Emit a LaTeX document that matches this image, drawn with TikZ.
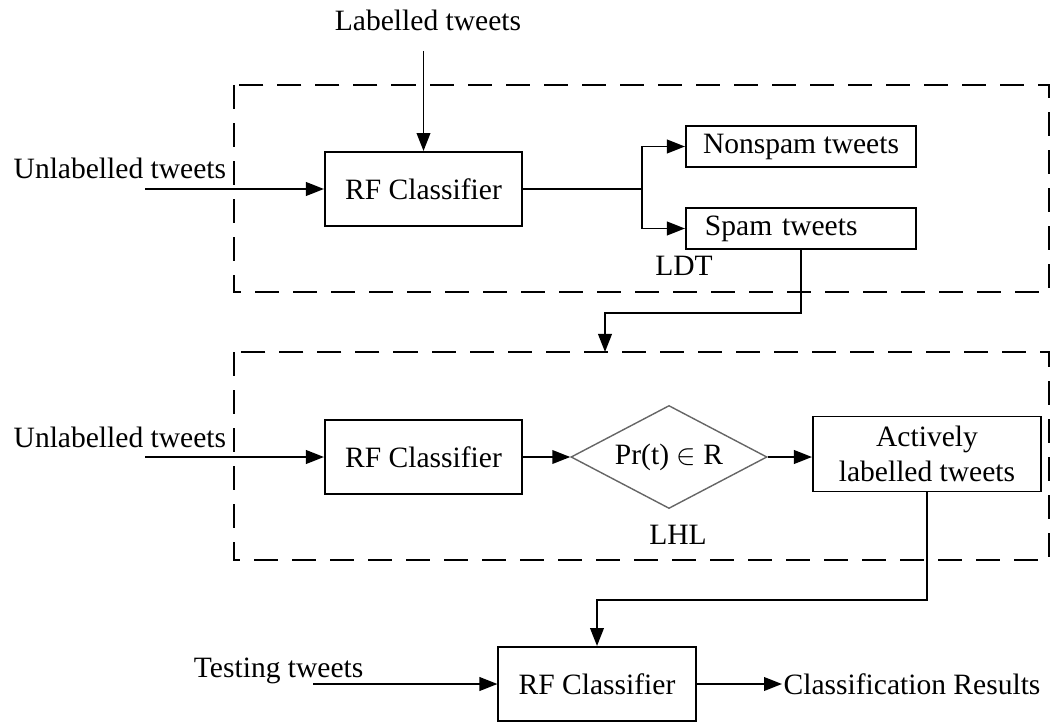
\documentclass[tikz,border=0pt]{standalone}
\usepackage{fontspec}
\setmainfont{Liberation Serif}
\usetikzlibrary{shapes.geometric,arrows.meta}

\begin{document}
\begin{tikzpicture}[x=0.025cm,y=-0.025cm,
  font=\fontsize{21}{25}\selectfont,
  box/.style={draw,line width=1.4pt,minimum width=4.925cm,minimum height=1.85cm,align=center},
  outbox/.style={draw,line width=1.4pt,minimum width=5.75cm,minimum height=1.03cm},
  decide/.style={diamond,draw=gray!80!black,line width=1pt,aspect=1.9,inner sep=0pt,
    minimum width=4.9cm,minimum height=2.575cm},
  flow/.style={-{Triangle[length=0.45cm,width=0.34cm]},line width=1.4pt},
  plain/.style={line width=1.4pt},
  zone/.style={line width=1.3pt,dash pattern=on 0.6cm off 0.35cm},
  tag/.style={inner sep=1pt}]
\useasboundingbox (0,0) rectangle (1051,722);

\draw[zone] (234,85) rectangle (1049,292);
\draw[zone] (234,352) rectangle (1049,560);

\node[box] (rfA) at (423.5,189) {RF Classifier};
\node[outbox] (nonspam) at (801,146.5) {Nonspam tweets};
\node[outbox,text width=5.2cm,align=left] (spam) at (801,228.5) {\hspace*{0.2cm}Spam tweets};
\node[tag] (ldt) at (684,266) {LDT};

\node[box] (rfB) at (423.5,457) {RF Classifier};
\node[decide] (prob) at (669,457) {Pr(t) $\in$ R};
\node[box,minimum width=5.7cm,minimum height=1.875cm] (active) at (927,454) {Actively\\labelled tweets};
\node[tag] (lhl) at (678,535) {LHL};

\node[box] (rfC) at (597,684) {RF Classifier};

\node[tag,anchor=base] (labIn) at (428,31) {Labelled tweets};
\node[tag,anchor=base west] (unA) at (12,179) {Unlabelled tweets};
\node[tag,anchor=base west] (unB) at (12,447) {Unlabelled tweets};
\node[tag,anchor=base east] (testIn) at (365,677) {Testing tweets};
\node[tag,anchor=west] (result) at (782,684) {Classification Results};

\coordinate (labStart) at (428,51);
\coordinate (unAStart) at (145,189);
\coordinate (unBStart) at (145,457);
\coordinate (testStart) at (313,684);
\coordinate (split) at (642,189);
\coordinate (bendA) at (605,313);
\coordinate (lhlTop) at (605,352);
\coordinate (bendB) at (0,600);

\draw[flow] (rfA.north |- labStart) -- (rfA.north);
\draw[flow] (unAStart) -- (rfA.west);
\draw[plain] (rfA.east) -- (split);
\draw[flow] (split) |- (nonspam.west);
\draw[flow] (split) |- (spam.west);
\draw[flow] (spam.south) |- (bendA) -- (lhlTop);

\draw[flow] (unBStart) -- (rfB.west);
\draw[flow] (rfB.east) -- (prob.west);
\draw[flow] (prob.east) -- (prob.east -| active.west);
\draw[flow] (active.south) -- (active.south |- bendB) -| (rfC.north);

\draw[flow] (testStart) -- (rfC.west);
\draw[flow] (rfC.east) -- (result.west);
\end{tikzpicture}
\end{document}
